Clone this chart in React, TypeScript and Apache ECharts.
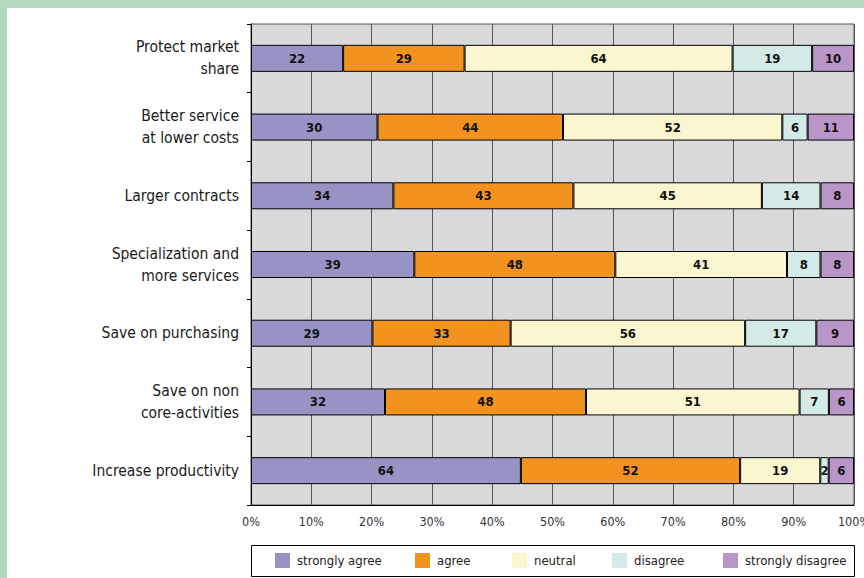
import React, { useEffect, useRef } from "react";
import * as echarts from "echarts";

const categories = [
  "Protect market\nshare",
  "Better service\nat lower costs",
  "Larger contracts",
  "Specialization and\nmore services",
  "Save on purchasing",
  "Save on non\ncore-activities",
  "Increase productivity",
];
const seriesNames = ["strongly agree", "agree", "neutral", "disagree", "strongly disagree"];
const stronglyAgree = [22, 30, 34, 39, 29, 32, 64];
const agree = [29, 44, 43, 48, 33, 48, 52];
const neutral = [64, 52, 45, 41, 56, 51, 19];
const disagree = [19, 6, 14, 8, 17, 7, 2];
const stronglyDisagree = [10, 11, 8, 8, 9, 6, 6];
const colors = ["#9893c5", "#f29320", "#f9f6d0", "#d4eae6", "#b896c8"];
const xTicks = [0, 10, 20, 30, 40, 50, 60, 70, 80, 90, 100];
const legendLefts = [275, 415, 512, 612, 723];

const FONT = "'DejaVu Sans Condensed', sans-serif";

export default function App() {
  const ref = useRef<HTMLDivElement>(null);
  useEffect(() => {
    document.body.style.margin = "0";
    const chart = echarts.init(ref.current!, null, { renderer: "svg" });
    const all = [stronglyAgree, agree, neutral, disagree, stronglyDisagree];
    const totals = categories.map((_, i) => all.reduce((s, a) => s + a[i], 0));
    chart.setOption({
      animation: false,
      backgroundColor: "#ffffff",
      textStyle: { fontFamily: FONT },
      grid: {
        left: 251,
        right: 10,
        top: 24,
        bottom: 73,
        outerBoundsMode: "none",
        containLabel: false,
        show: true,
        backgroundColor: "#d9d9db",
        borderColor: "#555",
        borderWidth: 1,
      },
      legend: seriesNames.map((n, i) => ({
        left: legendLefts[i],
        top: 553,
        padding: 0,
        itemWidth: 15,
        itemHeight: 15,
        icon: "rect",
        data: [n],
        itemStyle: { borderWidth: 0 },
        textStyle: { fontFamily: FONT, fontSize: 13, color: "#222", padding: [0, 0, 0, 2] },
      })),
      graphic: [
        { type: "rect", shape: { x: 0, y: 0, width: 864, height: 8 }, style: { fill: "#b3d9bf" }, silent: true },
        { type: "rect", shape: { x: 0, y: 0, width: 7, height: 578 }, style: { fill: "#b3d9bf" }, silent: true },
        {
          type: "rect",
          shape: { x: 251.5, y: 545.5, width: 603, height: 31 },
          style: { fill: "none", stroke: "#000", lineWidth: 1 },
          silent: true,
          z: 0,
        },
      ],
      xAxis: {
        type: "value",
        min: 0,
        max: 100,
        interval: 10,
        axisLine: { show: true, lineStyle: { color: "#000" } },
        axisTick: { show: false },
        axisLabel: {
          formatter: (v: number) => (xTicks.includes(v) ? v + "%" : ""),
          fontFamily: FONT,
          fontSize: 12.5,
          color: "#333",
          margin: 10,
        },
        splitLine: { show: true, lineStyle: { color: "#555", width: 1 } },
      },
      yAxis: {
        type: "category",
        data: categories,
        inverse: true,
        axisLine: { show: true, lineStyle: { color: "#000" } },
        axisTick: { show: true, length: 4, lineStyle: { color: "#000" } },
        axisLabel: {
          fontFamily: FONT,
          fontSize: 15.5,
          color: "#1a1a1a",
          margin: 12,
          lineHeight: 22,
          align: "right",
        },
      },
      series: all.map((arr, si) => ({
        name: seriesNames[si],
        type: "bar",
        stack: "total",
        barWidth: 27,
        itemStyle: { color: colors[si], borderColor: "#000", borderWidth: 1 },
        label: {
          show: true,
          position: "inside",
          fontFamily: FONT,
          fontWeight: "bold",
          fontSize: 13,
          color: "#111",
          formatter: (p: any) => String(arr[p.dataIndex]),
        },
        data: arr.map((v, i) => (v / totals[i]) * 100),
      })),
    });
    return () => chart.dispose();
  }, []);
  return <div ref={ref} style={{ width: 864, height: 578 }} />;
}
